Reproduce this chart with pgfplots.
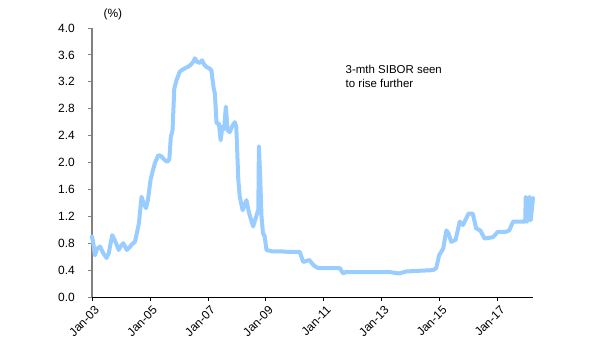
\documentclass[border=0pt]{standalone}
\usepackage{pgfplots}
\pgfplotsset{compat=1.18}
\usepackage{fontspec}
\setmainfont{Liberation Sans}
\definecolor{sibor}{RGB}{153,204,255}
\definecolor{axgray}{RGB}{128,128,128}
\begin{document}
\begin{tikzpicture}
\begin{axis}[
  scale only axis,
  width=441bp, height=269bp,
  xmin=2003, xmax=2018.22,
  ymin=0, ymax=4.0,
  ytick={0,0.4,...,4.01},
  /pgf/number format/fixed,
  /pgf/number format/fixed zerofill,
  /pgf/number format/precision=1,
  /pgf/number format/assume math mode=true,
  xtick={2003,2005,2007,2009,2011,2013,2015,2017},
  xticklabels={Jan-03,Jan-05,Jan-07,Jan-09,Jan-11,Jan-13,Jan-15,Jan-17},
  xticklabel style={xshift=2bp, yshift=-4bp, rotate=45, anchor=north east, inner sep=0pt, font=\fontsize{12}{13}\selectfont},
  yticklabel style={font=\fontsize{12}{13}\selectfont, inner sep=0pt, xshift=-13bp},
  axis x line*=bottom,
  axis y line*=left,
  x axis line style={black, line width=0.8pt, -},
  y axis line style={axgray, line width=1.2pt, -},
  tick align=outside,
  major tick length=4bp,
  xtick style={black, line width=0.8pt},
  ytick style={axgray, line width=0.8pt},
  clip=false,
]
\addplot[sibor, line width=4bp, line join=round, line cap=round] coordinates {
(2003.00,0.90) (2003.05,0.78) (2003.10,0.62) (2003.18,0.72) (2003.28,0.75)
(2003.38,0.66) (2003.50,0.58) (2003.58,0.65) (2003.62,0.75) (2003.70,0.92)
(2003.78,0.85) (2003.85,0.78) (2003.92,0.70) (2004.00,0.76) (2004.08,0.80)
(2004.20,0.70) (2004.30,0.74) (2004.37,0.78) (2004.48,0.82) (2004.55,0.95)
(2004.62,1.10) (2004.71,1.49) (2004.78,1.40) (2004.86,1.32) (2004.93,1.44)
(2005.02,1.74) (2005.10,1.88) (2005.17,1.99) (2005.29,2.11) (2005.40,2.09)
(2005.50,2.04) (2005.60,2.01) (2005.67,2.05) (2005.72,2.38) (2005.78,2.48)
(2005.84,3.10) (2005.92,3.23) (2006.03,3.35) (2006.12,3.38) (2006.20,3.40)
(2006.30,3.42) (2006.40,3.45) (2006.50,3.50) (2006.55,3.55) (2006.62,3.50)
(2006.72,3.48) (2006.80,3.52) (2006.88,3.45) (2006.95,3.42) (2007.05,3.40)
(2007.12,3.37) (2007.20,3.10) (2007.24,3.03) (2007.30,2.58) (2007.38,2.58)
(2007.44,2.33) (2007.50,2.53) (2007.56,2.50) (2007.62,2.83) (2007.68,2.48)
(2007.75,2.45) (2007.85,2.55) (2007.93,2.60) (2007.98,2.53) (2008.05,1.74)
(2008.10,1.49) (2008.20,1.29) (2008.33,1.44) (2008.42,1.25) (2008.56,1.05)
(2008.67,1.20) (2008.74,1.30) (2008.76,2.24) (2008.80,1.84) (2008.85,1.20)
(2008.90,0.95) (2008.96,0.90) (2009.02,0.70) (2009.20,0.68) (2009.48,0.68)
(2009.80,0.67) (2010.17,0.67) (2010.29,0.52) (2010.50,0.55) (2010.65,0.47)
(2010.80,0.43) (2011.55,0.43) (2011.67,0.35) (2011.75,0.37) (2012.35,0.37)
(2013.28,0.37) (2013.60,0.35) (2013.85,0.38) (2014.77,0.40) (2014.88,0.43)
(2014.98,0.62) (2015.12,0.72) (2015.23,0.99) (2015.30,0.95) (2015.40,0.82)
(2015.55,0.85) (2015.69,1.12) (2015.80,1.07) (2016.00,1.24) (2016.14,1.24)
(2016.26,1.02) (2016.40,0.99) (2016.55,0.87) (2016.84,0.89) (2017.01,0.97)
(2017.29,0.97) (2017.40,0.99) (2017.53,1.12) (2017.87,1.12) (2017.95,1.12)
(2017.97,1.49) (2018.02,1.12) (2018.10,1.49) (2018.14,1.14) (2018.22,1.47)
};
\node[anchor=south, font=\fontsize{12}{13}\selectfont, inner sep=0pt] at (axis cs:2003.72,4.11) {(\%)};
\node[anchor=base west, font=\fontsize{11.5}{13}\selectfont, inner sep=0pt] at (axis cs:2011.75,3.33) {3-mth SIBOR seen};
\node[anchor=base west, font=\fontsize{11.5}{13}\selectfont, inner sep=0pt] at (axis cs:2011.75,3.12) {to rise further};
\end{axis}
\path (current axis.south west) ++(-92bp,-63bp) rectangle ++(600bp,360bp);
\end{tikzpicture}
\end{document}
